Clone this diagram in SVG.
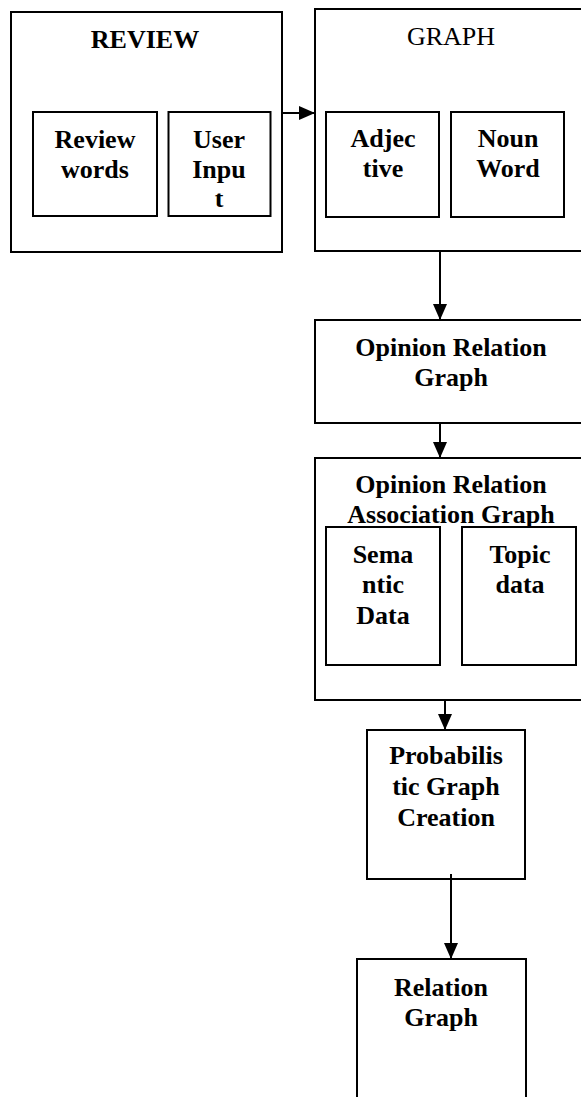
<svg xmlns="http://www.w3.org/2000/svg" width="581" height="1097" viewBox="0 0 581 1097">
<style>
.box{fill:#fff;stroke:#000;stroke-width:2}
.in{fill:#fff;stroke:#000;stroke-width:2}
.t{font-family:"Liberation Serif","Times New Roman",serif;font-size:26px;font-weight:bold;text-anchor:middle;fill:#000}
.r{font-weight:normal}
.c{stroke:#000;stroke-width:2;fill:none;marker-end:url(#ah)}
</style>
<defs>
<marker id="ah" markerUnits="userSpaceOnUse" viewBox="0 0 16 14" refX="16" refY="7" markerWidth="16" markerHeight="14" orient="auto">
<path d="M0,0 L16,7 L0,14 z" fill="#000"/>
</marker>
<clipPath id="tclip"><rect x="168" y="193.5" width="102" height="21"/></clipPath>
</defs>
<rect width="581" height="1097" fill="#fff"/>
<g id="review">
<rect class="box" x="11" y="12" width="271" height="240"/>
<text class="t" x="145" y="48">REVIEW</text>
</g>
<g id="review-words">
<rect class="in" x="33" y="112" width="124" height="104"/>
<text class="t" x="95" y="148">Review</text>
<text class="t" x="95" y="178">words</text>
</g>
<g id="user-input">
<rect class="in" x="168.5" y="112" width="102" height="104"/>
<text class="t" x="219" y="148">User</text>
<text class="t" x="219" y="178">Inpu</text>
<text class="t" x="219" y="207" clip-path="url(#tclip)">t</text>
</g>
<g id="graph">
<rect class="box" x="315" y="9" width="280" height="242"/>
<text class="t r" x="451" y="45">GRAPH</text>
</g>
<g id="adjective">
<rect class="in" x="326" y="112" width="113" height="105"/>
<text class="t" x="383" y="147">Adjec</text>
<text class="t" x="383" y="177">tive</text>
</g>
<g id="noun-word">
<rect class="in" x="451" y="112" width="113" height="105"/>
<text class="t" x="508" y="147">Noun</text>
<text class="t" x="508" y="177">Word</text>
</g>
<g id="opinion-relation-graph">
<rect class="box" x="315" y="320" width="280" height="103"/>
<text class="t" x="451" y="356">Opinion Relation</text>
<text class="t" x="451" y="386">Graph</text>
</g>
<g id="opinion-relation-association-graph">
<rect class="box" x="315" y="458" width="280" height="242"/>
<text class="t" x="451" y="493">Opinion Relation</text>
<text class="t" x="451" y="523">Association Graph</text>
</g>
<g id="semantic-data">
<rect class="in" x="326" y="527" width="114" height="138"/>
<text class="t" x="383" y="563">Sema</text>
<text class="t" x="383" y="593">ntic</text>
<text class="t" x="383" y="624">Data</text>
</g>
<g id="topic-data">
<rect class="in" x="462" y="527" width="114" height="138"/>
<text class="t" x="520" y="563">Topic</text>
<text class="t" x="520" y="593">data</text>
</g>
<g id="probabilistic">
<rect class="box" x="367" y="730" width="158" height="149"/>
<text class="t" x="446" y="764">Probabilis</text>
<text class="t" x="446" y="795">tic Graph</text>
<text class="t" x="446" y="826">Creation</text>
</g>
<g id="relation-graph">
<rect class="box" x="357" y="959" width="169" height="150"/>
<text class="t" x="441" y="996">Relation</text>
<text class="t" x="441" y="1026">Graph</text>
</g>
<g id="connectors">
<line class="c" x1="282" y1="113" x2="315" y2="113"/>
<line class="c" x1="440" y1="251" x2="440" y2="320"/>
<line class="c" x1="440" y1="423" x2="440" y2="458"/>
<line class="c" x1="445" y1="700" x2="445" y2="730"/>
<line class="c" x1="451" y1="874" x2="451" y2="959"/>
</g>
</svg>
